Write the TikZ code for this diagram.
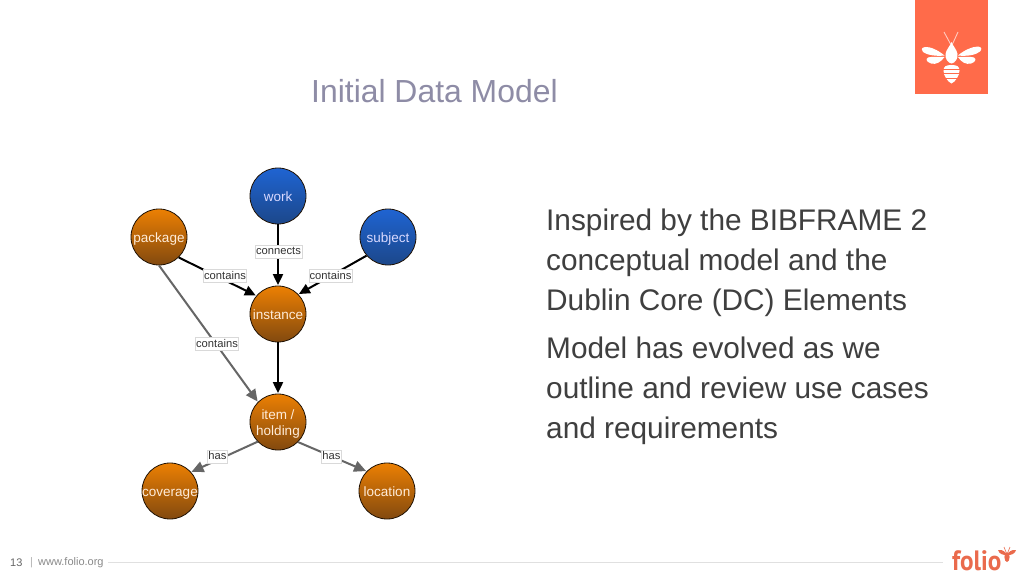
\documentclass[tikz,border=0pt]{standalone}
\usepackage{fontspec}
\setmainfont{Liberation Sans}
\newfontfamily\logofont{PT Sans}
\usetikzlibrary{arrows.meta,shadings}
\definecolor{titlecol}{HTML}{8E8CA6}
\definecolor{bodycol}{HTML}{3F3F3F}
\definecolor{footcol}{HTML}{8A8A8A}
\definecolor{coral}{HTML}{FF6B4A}
\definecolor{logocol}{HTML}{EA6A4C}
\definecolor{orangetop}{HTML}{EC8003}
\definecolor{orangebot}{HTML}{82490F}
\definecolor{bluetop}{HTML}{1F64D2}
\definecolor{bluebot}{HTML}{1C478A}
\definecolor{edgegray}{HTML}{666666}
\newcommand{\balltext}[2][-5pt]{\raisebox{#1}[0pt][0pt]{\makebox[0pt][c]{#2}}}
\tikzset{
  x=1pt,y=-1pt,
  concept/.style={circle,minimum size=56pt,inner sep=0pt,draw=black!75!orangebot,line width=0.8pt,text=white,align=center,font=\fontsize{13.5}{18}\selectfont},
  orangeball/.style={concept,top color=orangetop,bottom color=orangebot,text=white!85!orange},
  blueball/.style={concept,top color=bluetop,bottom color=bluebot,text=white!85!blue},
  rel/.style={draw=black!15,fill=white,inner sep=0.8pt,text=black!80,font=\fontsize{11.2}{11}\selectfont,text height=9pt,text depth=2.5pt},
  blackedge/.style={draw=black,line width=2pt,-{Triangle[length=11pt,width=10pt]},shorten >=0.5pt},
  grayedge/.style={draw=edgegray,line width=2pt,-{Triangle[length=12pt,width=11pt]},shorten >=0.5pt},
  slidetitle/.style={anchor=west,text=titlecol,font=\fontsize{31.9}{36}\selectfont},
  bodytext/.style={anchor=north west,align=left,text=bodycol,font=\fontsize{29.8}{40}\selectfont,inner sep=0pt},
  foot/.style={anchor=west,text=footcol,inner sep=0pt,font=\fontsize{11}{12}\selectfont},
}
\begin{document}
\begin{tikzpicture}
\useasboundingbox (0,0) rectangle (1024,576);
\fill[white] (0,0) rectangle (1024,576);
% logo block
\fill[coral] (915,0) rectangle (988,93.5);
\begin{scope}[white]
 \draw[white!65!coral,line width=0.9pt] (950.5,44) -- (944,32) (952.5,44) -- (958,32);
 \fill (951.5,42) .. controls (953,46) and (957,50) .. (957.5,54) .. controls (958,59) and (955,63) .. (951.5,63.5) .. controls (948,63) and (945,59) .. (945.5,54) .. controls (946,50) and (950,46) .. (951.5,42) -- cycle;
 \fill (944.5,55.5) .. controls (938,50) and (930,46.5) .. (925,47) .. controls (921,47.5) and (921,50.5) .. (923,52) .. controls (927,55) and (936,56.5) .. (944.5,55.5) -- cycle;
 \fill (958,55.5) .. controls (964,50) and (973,46.5) .. (978,46.5) .. controls (982,47) and (982,49.5) .. (980,51.5) .. controls (976,55) and (967,56.5) .. (958,55.5) -- cycle;
 \fill (944.5,57) .. controls (938,57) and (931,56.5) .. (928,57.5) .. controls (925,59.5) and (927,62) .. (931,63.5) .. controls (936,65) and (941,62) .. (944.5,57) -- cycle;
 \fill (958,57) .. controls (965,57) and (971,56.5) .. (974,57.5) .. controls (977,59.5) and (975,62) .. (971,63.5) .. controls (966,65) and (961,62) .. (958,57) -- cycle;
 \fill (951.5,65) .. controls (957,65) and (959.5,66.5) .. (959.5,70.5) .. controls (959.5,76) and (955,82) .. (951.5,83.5) .. controls (948,82) and (943.5,76) .. (943.5,70.5) .. controls (943.5,66.5) and (946,65) .. (951.5,65) -- cycle;
 \draw[coral,line width=0.9pt] (943,69) -- (960,69) (943,73.5) -- (960,73.5) (944,78) -- (959,78);
\end{scope}
% title and body
\node[slidetitle,inner sep=0pt] (title) at (311,91) {Initial Data Model};
\node[bodytext] (bodya) at (546,208.5) {Inspired by the BIBFRAME 2\\conceptual model and the\\Dublin Core (DC) Elements};
\node[bodytext] (bodyb) at (546,336.5) {Model has evolved as we\\outline and review use cases\\and requirements};
% concepts
\node[blueball] (work) at (278,196) {\balltext{work}};
\node[orangeball] (package) at (159,237) {\balltext{package}};
\node[blueball] (subject) at (388,237) {\balltext{subject}};
\node[orangeball] (instance) at (278,314) {\balltext{instance}};
\node[orangeball] (item) at (278,422) {\balltext[3pt]{item /}\balltext[-13pt]{holding}};
\node[orangeball] (coverage) at (170,491) {\balltext{coverage}};
\node[orangeball] (location) at (387,491) {\balltext{location}};
% connectors
\draw[blackedge] (work) -- (instance);
\draw[blackedge] (package.-46) -- (instance.140);
\draw[blackedge] (subject.221) -- (instance.44);
\draw[blackedge] (instance) -- (item);
\draw[grayedge] (package.-90) -- (item.135);
\draw[grayedge] (item.224) -- (coverage.42);
\draw[grayedge] (item.-45) -- (location.136);
% connector labels
\node[rel] (l1) at (278.5,251.5) {connects};
\node[rel] (l2) at (225,276) {contains};
\node[rel] (l3) at (330.5,276) {contains};
\node[rel] (l4) at (217,344) {contains};
\node[rel] (l5) at (217.5,456.5) {has};
\node[rel] (l6) at (331.5,456.5) {has};
% footer
\node[foot,text=black!60] (pagenum) at (10,563) {13};
\node[foot,text=black!30] (pipe) at (30,562.5) {|};
\node[foot] (url) at (38,563) {www.folio.org};
\coordinate (ruleA) at (108,562.5);
\coordinate (ruleB) at (943,562.5);
\draw[black!12,line width=1.3pt] (ruleA) -- (ruleB);
% folio logo
\node[anchor=base west,inner sep=0pt,text=logocol,xscale=0.9,font=\logofont\bfseries\fontsize{28}{28}\selectfont] (logo) at (952,570) {folio};
\begin{scope}[logocol]
 \fill (1007,557) ellipse (2.6pt and 5pt);
 \fill (1006,553) .. controls (1003,550) and (1000,549.5) .. (998,550) .. controls (999,554) and (1003,555) .. (1006,555) -- cycle;
 \fill (1008,553) .. controls (1011,550) and (1014,549.5) .. (1016,550) .. controls (1015,554) and (1011,555) .. (1008,555) -- cycle;
 \draw[line width=0.6pt] (1006,552) -- (1004,547) (1008,552) -- (1010,547);
\end{scope}
\end{tikzpicture}
\end{document}
